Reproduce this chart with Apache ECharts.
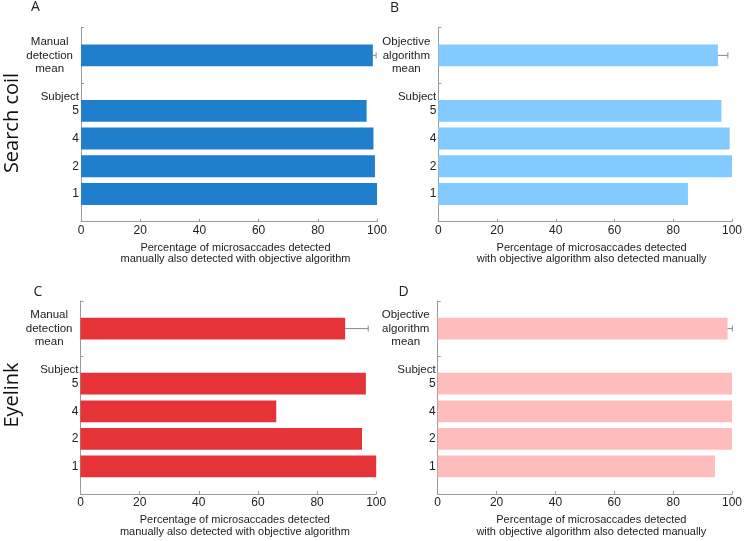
<!DOCTYPE html>
<html><head><meta charset="utf-8">
<script src="https://cdn.jsdelivr.net/npm/echarts@6/dist/echarts.min.js"></script>
<style>html,body{margin:0;padding:0;background:#fff}#c{width:745px;height:541px}</style>
</head><body><div id="c"></div>
<script>
// ---- data ----
const subjects = ['1', '2', '4', '5'];
const subjectHeader = 'Subject';
const manualMeanLabel = ['Manual', 'detection', 'mean'];
const objectiveMeanLabel = ['Objective', 'algorithm', 'mean'];
const xTicks = [0, 20, 40, 60, 80, 100];
const nameManual = 'Percentage of microsaccades detected\nmanually also detected with objective algorithm';
const nameObjective = 'Percentage of microsaccades detected\nwith objective algorithm also detected manually';

// Search coil
const coilManual = [100, 99.3, 98.8, 96.5];
const coilManualMean = 98.6, coilManualErr = 1.1;
const coilObjective = [85.0, 100, 99.2, 96.4];
const coilObjectiveMean = 95.2, coilObjectiveErr = 3.4;
// Eyelink
const eyeManual = [100, 95.2, 66.2, 96.5];
const eyeManualMean = 89.5, eyeManualErr = 7.8;
const eyeObjective = [94.2, 100, 100, 100];
const eyeObjectiveMean = 98.5, eyeObjectiveErr = 1.6;

const panelLetters = ['A', 'B', 'C', 'D'];
const rowLabels = ['Search coil', 'Eyelink'];

// ---- layout ----
const panels = [
  {vals: coilManual, mean: coilManualMean, err: coilManualErr, meanLabel: manualMeanLabel, name: nameManual, color: '#1f7fcd',
   grid: {left: 81, top: 27.7, width: 296, height: 194}, letter: [35.5, 7]},
  {vals: coilObjective, mean: coilObjectiveMean, err: coilObjectiveErr, meanLabel: objectiveMeanLabel, name: nameObjective, color: '#82caff',
   grid: {left: 438.3, top: 27.7, width: 296, height: 194}, letter: [394.5, 8]},
  {vals: eyeManual, mean: eyeManualMean, err: eyeManualErr, meanLabel: manualMeanLabel, name: nameManual, color: '#e63337',
   grid: {left: 80.5, top: 301, width: 295.7, height: 193}, letter: [38, 292]},
  {vals: eyeObjective, mean: eyeObjectiveMean, err: eyeObjectiveErr, meanLabel: objectiveMeanLabel, name: nameObjective, color: '#febcbd',
   grid: {left: 437.7, top: 301, width: 295.6, height: 193}, letter: [403.5, 292]}
];

const slots = ['0', '1', '2', '3', '4', '5', '6', '7'];
const meanSlot = 6, headerSlot = 4.5;
const FONT = '"Liberation Sans", Arial, Helvetica, sans-serif';
const axisColor = '#9a9a9a';

const grid = [], xAxis = [], yAxis = [], series = [];
panels.forEach((p, k) => {
  grid.push(Object.assign({containLabel: false}, p.grid));
  xAxis.push({
    type: 'value', gridIndex: k, min: xTicks[0], max: xTicks[xTicks.length - 1], interval: xTicks[1] - xTicks[0],
    axisLine: {show: true, lineStyle: {color: axisColor, width: 1}},
    axisTick: {show: true, inside: true, length: 3, lineStyle: {color: axisColor}},
    splitLine: {show: false},
    axisLabel: {color: '#222', fontSize: 12, fontFamily: FONT, margin: 3},
    name: p.name, nameLocation: 'middle', nameGap: 20.5,
    nameTextStyle: {color: '#222', fontSize: 11, fontFamily: FONT, lineHeight: 11.5, padding: [0, 0, 0, 13]}
  });
  // category axis for bars (ticks at 5 and 7)
  yAxis.push({
    type: 'category', gridIndex: k, data: slots, boundaryGap: false,
    axisLine: {show: true, lineStyle: {color: axisColor, width: 1}},
    axisTick: {show: true, inside: true, length: 3, interval: (i) => i === 5 || i === 7, lineStyle: {color: axisColor}},
    axisLabel: {show: false}, splitLine: {show: false}
  });
  // value overlay axis for labels
  const labelMap = {};
  p.vals.forEach((v, i) => { labelMap[i + 1] = subjects[i]; });
  labelMap[headerSlot] = '{s|' + subjectHeader + '}';
  labelMap[meanSlot] = p.meanLabel.map(s => '{m|' + s + '}').join('\n');
  yAxis.push({
    type: 'value', gridIndex: k, position: 'left', min: 0, max: slots.length - 1,
    axisLine: {show: false}, axisTick: {show: false}, splitLine: {show: false},
    axisLabel: {
      customValues: [1, 2, 3, 4, headerSlot, meanSlot],
      margin: 2, color: '#222', fontSize: 12, fontFamily: FONT,
      formatter: (v) => labelMap[v] !== undefined ? labelMap[v] : '',
      rich: {
        m: {align: 'center', fontSize: 11.5, lineHeight: 13.5, fontFamily: FONT, color: '#222', padding: [0, 6, 0, 0]},
        s: {fontSize: 11.5, fontFamily: FONT, color: '#222'}
      }
    }
  });
  const data = p.vals.map((v, i) => [v, i + 1]).concat([[p.mean, meanSlot]]);
  series.push({
    type: 'bar', xAxisIndex: k, yAxisIndex: 2 * k, data: data, barWidth: '79%',
    itemStyle: {color: p.color}, silent: true, animation: false
  });
  series.push({
    type: 'custom', xAxisIndex: k, yAxisIndex: 2 * k, data: [[p.mean, p.err, meanSlot]],
    encode: {x: 0, y: 2}, silent: true, animation: false, z: 5,
    renderItem: function (params, api) {
      const m = api.value(0), e = api.value(1), y = api.value(2);
      const p0 = api.coord([m, y]), p1 = api.coord([m + e, y]);
      const h = 3;
      return {type: 'group', children: [
        {type: 'line', shape: {x1: p0[0], y1: p0[1], x2: p1[0], y2: p1[1]}, style: {stroke: '#8a8a8a', lineWidth: 1}},
        {type: 'line', shape: {x1: p1[0], y1: p1[1] - h, x2: p1[0], y2: p1[1] + h}, style: {stroke: '#8a8a8a', lineWidth: 1}}
      ]};
    }
  });
});

const graphic = [];
panels.forEach((p, k) => {
  graphic.push({type: 'text', x: p.letter[0], y: p.letter[1], silent: true,
    style: {text: panelLetters[k], font: '14px "Open Sans", sans-serif', fill: '#222', align: 'center', verticalAlign: 'middle'}});
});
[[12, 123], [12, 395]].forEach((pos, r) => {
  graphic.push({type: 'text', x: pos[0], y: pos[1], rotation: Math.PI / 2, silent: true,
    style: {text: rowLabels[r], font: '20px "Open Sans", sans-serif', fill: '#111', align: 'center', verticalAlign: 'middle'}});
});

const chart = echarts.init(document.getElementById('c'), null, {renderer: 'canvas'});
chart.setOption({animation: false, backgroundColor: '#fff', grid, xAxis, yAxis, series, graphic});
</script></body></html>
